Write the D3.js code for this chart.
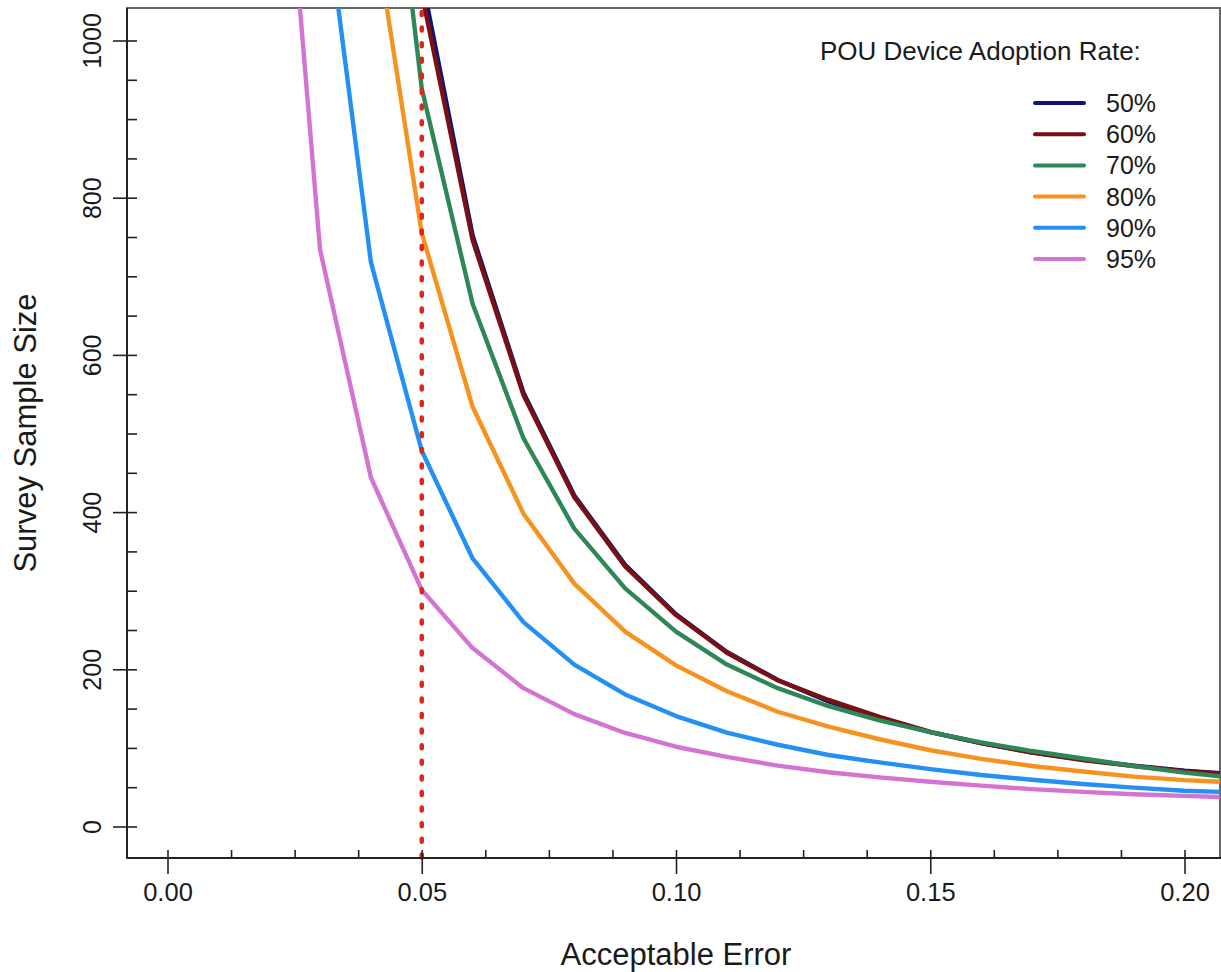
<!DOCTYPE html>
<html>
<head>
<meta charset="utf-8">
<script src="https://cdn.jsdelivr.net/npm/d3@7"></script>
<style>
body { margin: 0; background: #fff; }
text { font-family: "Liberation Sans", Arial, Helvetica, sans-serif; fill: #1a1a1a; }
</style>
</head>
<body>
<svg id="chart" width="1221" height="972"></svg>
<script>
// acceptable error (x) and survey sample size per adoption rate (y)
var errors = [0.02, 0.03, 0.04, 0.05, 0.06, 0.07, 0.08, 0.09, 0.10, 0.11,
              0.12, 0.13, 0.14, 0.15, 0.16, 0.17, 0.18, 0.19, 0.20, 0.21];
var rate50 = [6600, 2950, 1690, 1080, 752, 552, 421, 333, 270, 222,
              186.5, 159, 138, 120, 106, 94.5, 85, 77.5, 71, 66.5];
var rate60 = [6300, 2850, 1650, 1060, 746, 549, 419, 331, 269, 221,
              186, 161, 139.5, 120.5, 106, 94, 84.5, 77, 70.5, 66];
var rate70 = [5600, 2550, 1490, 939, 665, 494, 379, 303, 248, 206,
              176, 153, 135, 120, 107, 96, 86.5, 77, 68.5, 62];
var rate80 = [4300, 1950, 1172, 755, 534, 398, 309, 248, 205, 172,
              146, 127, 111, 97, 86, 77, 70, 63.5, 59, 56];
var rate90 = [2500, 1223, 718, 478, 341, 260, 206, 168, 140.5, 119.5,
              104, 91, 81.5, 73, 65.5, 59.5, 54, 49.5, 45.5, 43.5];
var rate95 = [1511, 734, 444, 301, 227, 176, 143, 119, 101.5, 88.5,
              77.5, 69, 62.5, 57, 52, 47.5, 44, 41, 39, 37];
var rateLabels = ["50%", "60%", "70%", "80%", "90%", "95%"];
var cutoffError = 0.05;

var xMajorTicks = [0, 0.05, 0.10, 0.15, 0.20];
var xMinorTicks = [0.0125, 0.025, 0.0375, 0.0625, 0.075, 0.0875,
                   0.1125, 0.125, 0.1375, 0.1625, 0.175, 0.1875];
var yMajorTicks = [0, 200, 400, 600, 800, 1000];
var yMinorTicks = [50, 100, 150, 250, 300, 350, 450, 500, 550,
                   650, 700, 750, 850, 900, 950];

var allRates = [rate50, rate60, rate70, rate80, rate90, rate95];
var lineColors = ["#0b1676", "#7a0f14", "#2f8757", "#f6921e", "#2590f4", "#d474d2"];

var svg = d3.select("#chart");
var box = {left: 127, right: 1220, top: 8, bottom: 858};

var xScale = d3.scaleLinear().domain([0, 0.2]).range([167.5, 1184.5]);
var yScale = d3.scaleLinear().domain([0, 1000]).range([826.5, 40.5]);

svg.append("defs").append("clipPath").attr("id", "plotclip")
    .append("rect")
    .attr("x", box.left).attr("y", box.top)
    .attr("width", box.right - box.left).attr("height", box.bottom - box.top);

// box (top / right lighter)
svg.append("rect")
    .attr("x", box.left).attr("y", box.top)
    .attr("width", box.right - box.left).attr("height", box.bottom - box.top)
    .attr("fill", "none").attr("stroke", "#666").attr("stroke-width", 2);

//lines
var lineGen = d3.line()
    .x(function(d, i) { return xScale(errors[i]); })
    .y(function(d) { return yScale(d); });

var plot = svg.append("g").attr("clip-path", "url(#plotclip)");
plot.selectAll("path.rate")
    .data(allRates)
    .enter()
    .append("path")
    .attr("class", "rate")
    .attr("d", lineGen)
    .attr("fill", "none")
    .attr("stroke", function(d, i) { return lineColors[i]; })
    .attr("stroke-width", 4.4)
    .attr("stroke-linejoin", "round");

// dotted cut-off at 0.05
svg.append("line")
    .attr("x1", xScale(cutoffError)).attr("x2", xScale(cutoffError))
    .attr("y1", box.top + 4).attr("y2", box.bottom + 2)
    .attr("stroke", "#e2231a")
    .attr("stroke-width", 4.5)
    .attr("stroke-linecap", "round")
    .attr("stroke-dasharray", "3 12.6");

// x axis
var fontFam = "'Liberation Sans', Arial, Helvetica, sans-serif";
var xMajor = svg.append("g")
    .attr("transform", "translate(0," + box.bottom + ")")
    .call(d3.axisBottom(xScale).tickValues(xMajorTicks).tickSize(16).tickPadding(9)
        .tickFormat(d3.format(".2f")));
var xMinor = svg.append("g")
    .attr("transform", "translate(0," + box.bottom + ")")
    .call(d3.axisBottom(xScale).tickValues(xMinorTicks).tickSize(-8).tickFormat(""));
[xMajor, xMinor].forEach(function(g) {
    g.select(".domain").remove();
    g.attr("font-size", 25.5).attr("font-family", fontFam);
    g.selectAll(".tick line").attr("stroke", "#222").attr("stroke-width", 1.6);
});
xMajor.selectAll(".tick line").attr("y1", -8);
xMajor.selectAll(".tick text").attr("fill", "#1a1a1a");

// y axis
var yMajor = svg.append("g")
    .attr("transform", "translate(" + box.left + ",0)")
    .call(d3.axisLeft(yScale).tickValues(yMajorTicks).tickSize(14).tickFormat(d3.format("d")));
var yMinor = svg.append("g")
    .attr("transform", "translate(" + box.left + ",0)")
    .call(d3.axisLeft(yScale).tickValues(yMinorTicks).tickSize(-10).tickFormat(""));
[yMajor, yMinor].forEach(function(g) {
    g.select(".domain").remove();
    g.attr("font-size", 25).attr("font-family", fontFam);
    g.selectAll(".tick line").attr("stroke", "#222").attr("stroke-width", 1.6);
});
yMajor.selectAll(".tick line").attr("x1", 10);
yMajor.selectAll(".tick text")
    .attr("transform", "rotate(-90)")
    .attr("x", 0).attr("y", -26).attr("dy", 0)
    .attr("text-anchor", "middle")
    .attr("fill", "#1a1a1a");

// axis lines
svg.append("line")
    .attr("x1", box.left).attr("x2", box.right + 1)
    .attr("y1", box.bottom).attr("y2", box.bottom)
    .attr("stroke", "#222").attr("stroke-width", 2);
svg.append("line")
    .attr("x1", box.left).attr("x2", box.left)
    .attr("y1", box.top).attr("y2", box.bottom)
    .attr("stroke", "#222").attr("stroke-width", 2);

// titles
svg.append("text")
    .attr("x", 676).attr("y", 965)
    .attr("text-anchor", "middle")
    .attr("font-size", 31)
    .text("Acceptable Error");
svg.append("text")
    .attr("transform", "translate(36,433) rotate(-90)")
    .attr("text-anchor", "middle")
    .attr("font-size", 31)
    .text("Survey Sample Size");

// legend
var legend = svg.append("g");
legend.append("text")
    .attr("x", 820).attr("y", 60)
    .attr("font-size", 26)
    .text("POU Device Adoption Rate:");
var items = legend.selectAll("g.item")
    .data(rateLabels)
    .enter()
    .append("g")
    .attr("class", "item")
    .attr("transform", function(d, i) { return "translate(0," + (103 + i * 31.2) + ")"; });
items.append("line")
    .attr("x1", 1035).attr("x2", 1084)
    .attr("stroke", function(d, i) { return lineColors[i]; })
    .attr("stroke-width", 4)
    .attr("stroke-linecap", "round");
items.append("text")
    .attr("x", 1106).attr("y", 9)
    .attr("font-size", 25)
    .text(function(d) { return d; });
</script>
</body>
</html>
